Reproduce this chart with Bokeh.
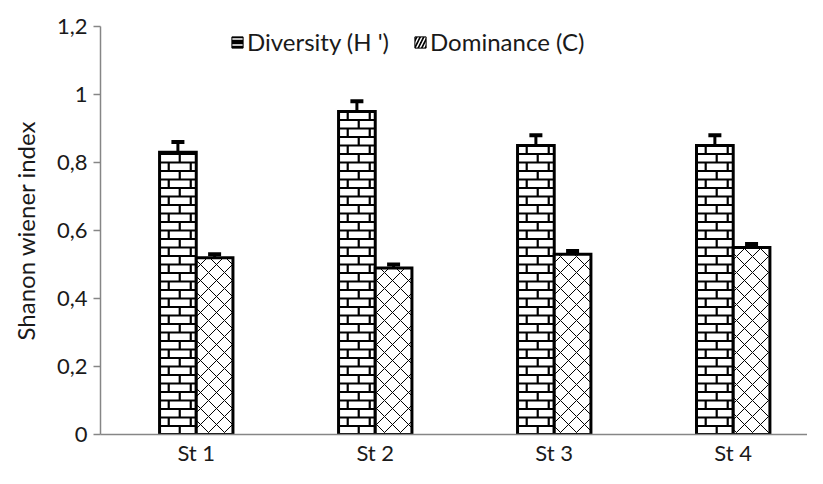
import numpy as np
from bokeh.plotting import figure
from bokeh.models import (ColumnDataSource, Range1d, FixedTicker, CustomJSTickFormatter,
                          Whisker, TeeHead, Legend, LegendItem)
from bokeh.transform import dodge
from bokeh.embed import file_html
from bokeh.resources import INLINE

# ---- data ----
stations = ["St 1", "St 2", "St 3", "St 4"]
diversity = [0.83, 0.95, 0.85, 0.85]
diversity_err = [0.03, 0.03, 0.03, 0.03]
dominance = [0.52, 0.49, 0.53, 0.55]
dominance_err = [0.01, 0.01, 0.01, 0.01]
series_names = ["Diversity (H ')", "Dominance (C)"]
y_ticks = [0, 0.2, 0.4, 0.6, 0.8, 1.0, 1.2]

FONT = "Lato"
FS = "22px"
TXT = "#1a1a1a"
xpos = np.arange(len(stations)) + 0.5
bw = 0.205

src = ColumnDataSource(dict(
    x=xpos,
    div=diversity, div_up=np.array(diversity) + np.array(diversity_err),
    dom=dominance, dom_up=np.array(dominance) + np.array(dominance_err),
))

p = figure(width=807, height=468, output_backend="svg", toolbar_location=None,
           x_range=Range1d(-0.035, 3.915), y_range=Range1d(0, 1.2),
           min_border_left=100, min_border_right=0, min_border_top=26, min_border_bottom=32)
p.outline_line_color = None
p.xgrid.visible = False
p.ygrid.visible = False

# Diversity bars (brick texture built from the bar heights)
p.vbar(x=dodge("x", -bw / 2), top="div", width=bw, source=src, fill_color="white",
       line_color=None)
row_h = 0.025
hx0, hx1, hy = [], [], []
vx, vy0, vy1 = [], [], []
for xc, top in zip(xpos, diversity):
    left = xc - bw
    n = int(np.floor(top / row_h))
    for k in range(n + 1):
        y0 = k * row_h
        y1 = min((k + 1) * row_h, top)
        if k > 0:
            hx0.append(left); hx1.append(xc); hy.append(y0)
        fr = [0.55] if k % 2 == 0 else [0.25, 0.85]
        for f in fr:
            vx.append(left + f * bw); vy0.append(y0); vy1.append(y1)
p.segment(x0=hx0, x1=hx1, y0=hy, y1=hy, line_color="black", line_width=2.2)
p.segment(x0=vx, x1=vx, y0=vy0, y1=vy1, line_color="black", line_width=2.2)
p.vbar(x=dodge("x", -bw / 2), top="div", width=bw, source=src, fill_color=None,
       line_color="black", line_width=3, line_join="miter")

# Dominance bars
p.vbar(x=dodge("x", bw / 2), top="dom", width=bw, source=src, fill_color="white",
       line_color="black", line_width=3, line_join="miter",
       hatch_pattern="diagonal_cross", hatch_scale=16, hatch_weight=1.0,
       hatch_color="black")

for col, up, off in (("div", "div_up", -bw / 2), ("dom", "dom_up", bw / 2)):
    w = Whisker(base=dodge("x", off), lower=col, upper=up, source=src, dimension="height",
                line_color="black", line_width=3,
                upper_head=TeeHead(size=13, line_width=4, line_color="black"),
                lower_head=None)
    p.add_layout(w)

# legend-only renderers (black boxes with white marks), no visible data
nan = float("nan")
l1 = p.vbar(x=[nan], top=[nan], width=0.1, fill_color="black", line_color="black",
            hatch_pattern="horizontal_line", hatch_color="white", hatch_scale=6, hatch_weight=1.5)
l2 = p.vbar(x=[nan], top=[nan], width=0.1, fill_color="black", line_color="black",
            hatch_pattern="right_diagonal_line", hatch_color="white", hatch_scale=7, hatch_weight=1.5)

# axes
ya = p.yaxis[0]
ya.ticker = FixedTicker(ticks=y_ticks)
ya.formatter = CustomJSTickFormatter(code="return String(Number(tick.toFixed(1))).replace('.', ',');")
ya.axis_line_color = "#868686"
ya.axis_line_width = 1.5
ya.major_tick_line_color = "#868686"
ya.major_tick_line_width = 1.5
ya.major_tick_out = 7
ya.major_tick_in = 0
ya.minor_tick_line_color = None
ya.major_label_text_font = FONT
ya.major_label_text_font_size = FS
ya.major_label_text_color = TXT
ya.major_label_standoff = 6
ya.axis_label = "Shanon wiener index"
ya.axis_label_text_font = FONT
ya.axis_label_text_font_size = "24px"
ya.axis_label_text_font_style = "normal"
ya.axis_label_text_color = TXT
ya.axis_label_standoff = 14

xa = p.xaxis[0]
xa.ticker = FixedTicker(ticks=list(xpos))
xa.major_label_overrides = {float(v): s for v, s in zip(xpos, stations)}
xa.axis_line_color = "#868686"
xa.axis_line_width = 1.5
xa.major_tick_line_color = None
xa.minor_tick_line_color = None
xa.major_tick_out = 0
xa.major_label_text_font = FONT
xa.major_label_text_font_size = FS
xa.major_label_text_color = TXT
xa.major_label_standoff = 4

legend = Legend(items=[LegendItem(label=series_names[0], renderers=[l1]),
                       LegendItem(label=series_names[1], renderers=[l2])],
                orientation="horizontal", location=(130, 378),
                label_text_font=FONT, label_text_font_size="24px", label_text_color=TXT,
                glyph_width=14, glyph_height=14, spacing=24, padding=0, margin=0,
                label_standoff=3, border_line_color=None, background_fill_alpha=0)
p.add_layout(legend)

open("out.html", "w").write(file_html(p, INLINE))
